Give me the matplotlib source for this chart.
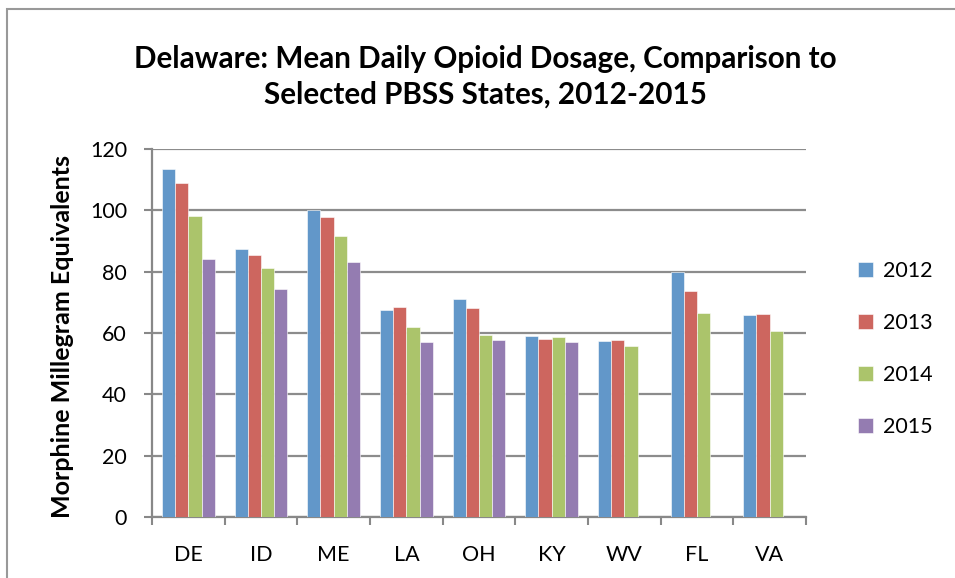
import numpy as np
import matplotlib.pyplot as plt
from matplotlib.patches import Rectangle

states = ["DE", "ID", "ME", "LA", "OH", "KY", "WV", "FL", "VA"]
years = ["2012", "2013", "2014", "2015"]
v2012 = [113.5, 87.4, 100.0, 67.5, 71.2, 58.9, 57.5, 80.0, 65.8]
v2013 = [108.9, 85.3, 97.8, 68.4, 68.1, 57.9, 57.7, 73.6, 66.1]
v2014 = [98.2, 81.1, 91.6, 61.9, 59.5, 58.7, 55.8, 66.4, 60.5]
v2015 = [84.1, 74.2, 83.0, 57.1, 57.7, 57.0, np.nan, np.nan, np.nan]
colors = ["#6297C9", "#CD665F", "#ABC46B", "#947CB1"]

plt.rcParams['font.family'] = ['Lato', 'DejaVu Sans']

fig = plt.figure(figsize=(9.55, 5.78), dpi=100)
ax = fig.add_axes([152/955, 1-517/578, 654/955, 368/578])

# outer chart frame (only left and top edges are visible in the crop)
fig.patches.append(Rectangle((7/955, -0.1), 1.1, 1.1 - 9/578, transform=fig.transFigure,
                             fill=False, edgecolor="#999999", linewidth=1.5))

x = np.arange(len(states)) + 0.5
w = 0.182
for i, (vals, c) in enumerate(zip([v2012, v2013, v2014, v2015], colors)):
    ax.bar(x + (i - 1.5) * w, vals, width=w, color=c, edgecolor="white", linewidth=0.4,
           label=years[i], zorder=3)

ax.set_xlim(0, len(states))
ax.set_ylim(0, 120)
ax.set_yticks(range(0, 121, 20))
ax.set_xticks(np.arange(len(states) + 1))
ax.set_xticklabels([])
ax.set_xticks(x, minor=True)
ax.set_xticklabels(states, minor=True, fontsize=15.5)
ax.tick_params(axis='x', which='minor', length=0, pad=20)
ax.tick_params(axis='x', which='major', length=6, width=1.5, color="#888888", direction='out')
ax.tick_params(axis='y', length=6, width=1.5, color="#888888", labelsize=15.5, pad=12)
ax.grid(axis='y', color="#8c8c8c", linewidth=1.6, zorder=0)
for s in ['top', 'right']:
    ax.spines[s].set_visible(False)
for s in ['left', 'bottom']:
    ax.spines[s].set_color("#888888")
    ax.spines[s].set_linewidth(1.6)

ax.set_ylabel("Morphine Millegram Equivalents", fontsize=18, fontweight='bold')
ax.yaxis.set_label_coords(74/955, 1-337/578, transform=fig.transFigure)
fig.text(485/955, 1-77/578, "Delaware: Mean Daily Opioid Dosage, Comparison to\nSelected PBSS States, 2012-2015",
         ha='center', va='center', fontsize=21.3, fontweight='bold', linespacing=1.35)

ax.legend(loc='upper left', bbox_to_anchor=(839/955, 1-242/578), bbox_transform=fig.transFigure,
          frameon=False, fontsize=15.5, handlelength=0.7, handleheight=0.7, labelspacing=1.48,
          handletextpad=0.45)

fig.savefig("out.png", dpi=100)
